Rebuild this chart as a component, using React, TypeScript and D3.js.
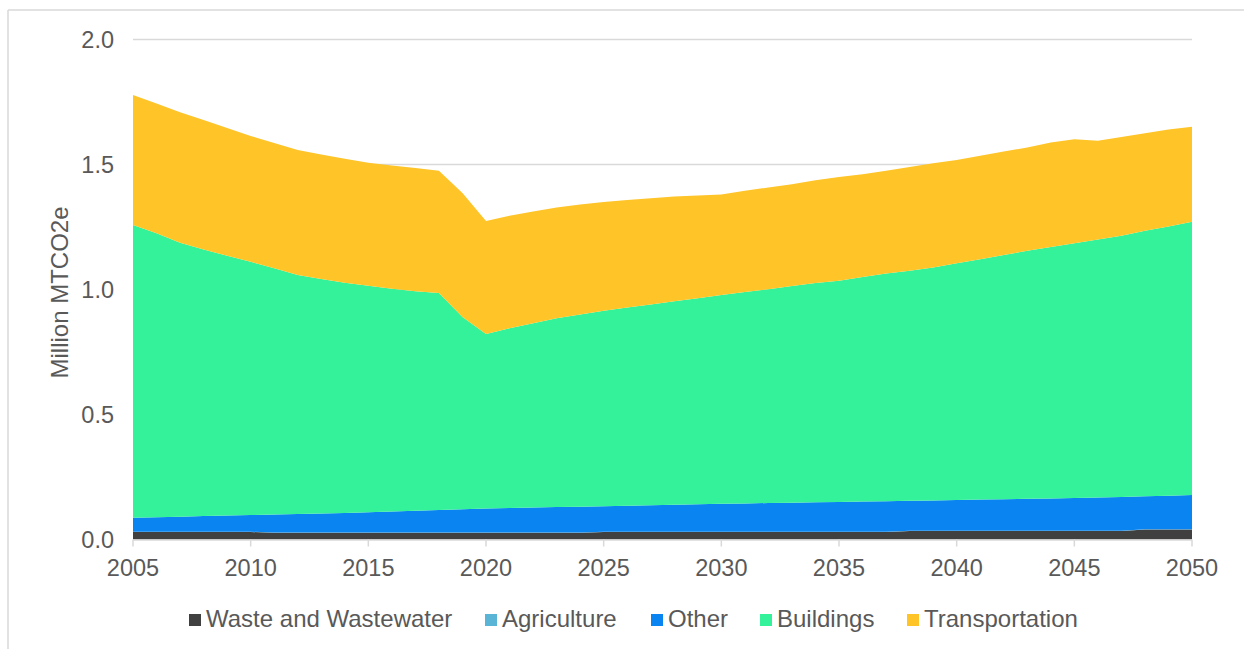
import React from 'react';
import * as d3 from 'd3';

// years 2005..2050, one value per year
const years = d3.range(2005, 2051);

const waste = [
  0.030, 0.030, 0.030, 0.030, 0.030, 0.030,
  0.027, 0.027, 0.027, 0.027, 0.027, 0.027, 0.027, 0.027, 0.027, 0.027, 0.027, 0.027, 0.027, 0.027,
  0.030, 0.030, 0.030, 0.030, 0.030, 0.030, 0.030, 0.030, 0.030, 0.030, 0.030, 0.030, 0.030,
  0.034, 0.034, 0.034, 0.034, 0.034, 0.034, 0.034, 0.034, 0.034, 0.034,
  0.040, 0.040, 0.040,
];
const agriculture = years.map(() => 0.001);
const other = [
  0.056, 0.058, 0.060, 0.063, 0.065, 0.067, 0.072, 0.074, 0.076, 0.078,
  0.081, 0.084, 0.087, 0.090, 0.093, 0.096, 0.098, 0.100, 0.102, 0.103,
  0.102, 0.104, 0.106, 0.108, 0.110, 0.112, 0.113, 0.115, 0.116, 0.118,
  0.119, 0.121, 0.122, 0.120, 0.121, 0.123, 0.125, 0.126, 0.128, 0.129,
  0.131, 0.133, 0.135, 0.132, 0.134, 0.137,
];
const buildings = [
  1.171, 1.136, 1.096, 1.066, 1.039, 1.013, 0.985, 0.956, 0.938, 0.921,
  0.906, 0.891, 0.878, 0.868, 0.769, 0.698, 0.719, 0.737, 0.755, 0.769,
  0.782, 0.793, 0.803, 0.814, 0.824, 0.835, 0.846, 0.855, 0.867, 0.877,
  0.885, 0.898, 0.911, 0.920, 0.932, 0.947, 0.961, 0.977, 0.992, 1.006,
  1.019, 1.032, 1.045, 1.062, 1.077, 1.093,
];
const transportation = [
  0.520, 0.519, 0.522, 0.518, 0.511, 0.503, 0.501, 0.500, 0.498, 0.496,
  0.492, 0.493, 0.493, 0.489, 0.496, 0.452, 0.450, 0.447, 0.443, 0.440,
  0.435, 0.430, 0.425, 0.419, 0.411, 0.402, 0.405, 0.407, 0.407, 0.411,
  0.415, 0.411, 0.411, 0.415, 0.417, 0.413, 0.414, 0.414, 0.413, 0.418,
  0.416, 0.395, 0.395, 0.390, 0.388, 0.380,
];

const seriesNames = ['Waste and Wastewater', 'Agriculture', 'Other', 'Buildings', 'Transportation'];
const seriesColors = ['#404040', '#5ab4d6', '#0984f0', '#33f29a', '#fec428'];
const seriesValues = [waste, agriculture, other, buildings, transportation];

const xTicks = [2005, 2010, 2015, 2020, 2025, 2030, 2035, 2040, 2045, 2050];
const yTicks = [0, 0.5, 1.0, 1.5, 2.0];
// legend text starts
const legendX = [206, 502, 668, 777, 924];

const W = 1244, H = 649;
const plot = { left: 133, right: 1192, top: 39.5, bottom: 539.5 };
const textColor = '#595959';
const font = '"Liberation Sans", Arial, sans-serif';

const App = () => {
  const x = d3.scaleLinear().domain([2005, 2050]).range([plot.left, plot.right]);
  const y = d3.scaleLinear().domain([0, 2]).range([plot.bottom, plot.top]);

  const rows = years.map((yr, i) => {
    const r: any = { year: yr };
    seriesNames.forEach((n, k) => { r[n] = seriesValues[k][i]; });
    return r;
  });
  const stacked = d3.stack().keys(seriesNames)(rows);
  const area = d3.area<any>()
    .x(d => x(d.data.year))
    .y0(d => y(d[0]))
    .y1(d => y(d[1]))
    .curve(d3.curveLinear);

  return <svg width={W} height={H} style={{ position: 'absolute', left: 0, top: 0, display: 'block' }}
    fontFamily={font}>
    <rect x={0} y={0} width={W} height={H} fill='#fff' />
    {/* frame */}
    <line x1={8} x2={W} y1={10} y2={10} stroke='#d9d9d9' strokeWidth={1.5} />
    <line x1={8} x2={8} y1={10} y2={H} stroke='#d9d9d9' strokeWidth={1.5} />

    {/* grid */}
    <g>
      {yTicks.filter(t => t > 0).map(t => <line key={t}
        x1={plot.left} x2={plot.right} y1={y(t)} y2={y(t)}
        stroke='#d9d9d9' strokeWidth={1.5} />)}
    </g>

    {/* areas */}
    <g>
      {stacked.map((s, k) => <path key={s.key} d={area(s) || ''} fill={seriesColors[k]} />)}
    </g>

    {/* x axis */}
    <line x1={plot.left} x2={plot.right} y1={plot.bottom + 0.5} y2={plot.bottom + 0.5} stroke='#d9d9d9' strokeWidth={1.5} />
    {xTicks.map(t => <g key={t}>
      <line x1={x(t)} x2={x(t)} y1={plot.bottom} y2={plot.bottom + 7} stroke='#d9d9d9' strokeWidth={1.5} />
      <text x={x(t)} y={plot.bottom + 36.5} textAnchor='middle' fontSize={23.5} fill={textColor}>{t}</text>
    </g>)}

    {/* y axis labels */}
    {yTicks.map(t => <text key={t} x={114} y={y(t)} dy='0.35em' textAnchor='end'
      fontSize={23.5} fill={textColor}>{t.toFixed(1)}</text>)}
    <text transform={`translate(68, ${(plot.top + plot.bottom) / 2 + 3}) rotate(-90)`} textAnchor='middle'
      fontSize={24} fill={textColor}>Million MTCO2e</text>

    {/* legend */}
    {seriesNames.map((n, k) => <g key={n}>
      <rect x={legendX[k] - 17} y={614} width={12} height={12} fill={seriesColors[k]} />
      <text x={legendX[k]} y={627} fontSize={24} fill={textColor}>{n}</text>
    </g>)}
  </svg>;
};

export default App;
